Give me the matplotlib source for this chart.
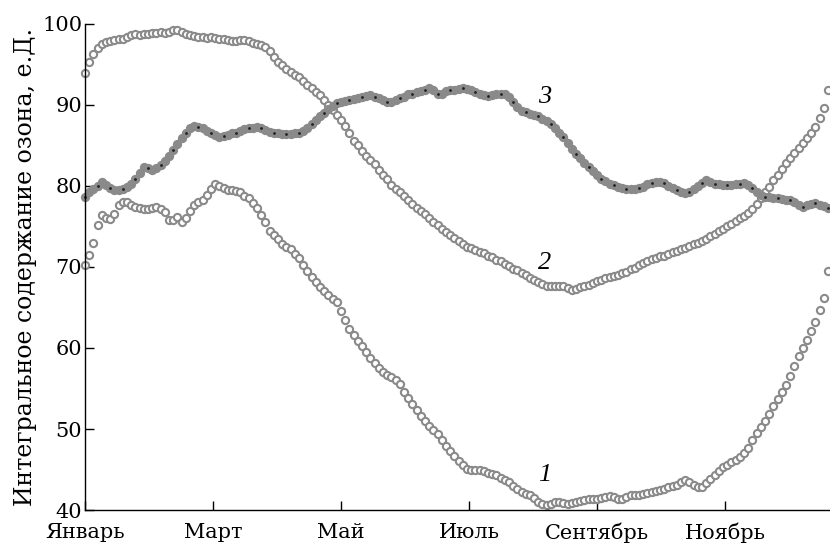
import numpy as np
import matplotlib
matplotlib.use("Agg")
import matplotlib.pyplot as plt

# Day of year for every sample (every second day)
days = np.arange(0, 356, 2)

# Curve 1 — total ozone, first station
ozone_1 = [
    70.2, 71.5, 72.9, 75.2, 76.4, 76.0, 75.9, 76.5, 77.7, 78.0,
    78.0, 77.6, 77.4, 77.3, 77.2, 77.2, 77.3, 77.4, 77.2, 76.8,
    75.8, 75.8, 76.2, 75.6, 76.1, 76.9, 77.7, 78.0, 78.3, 78.9,
    79.6, 80.3, 80.0, 79.8, 79.5, 79.5, 79.4, 79.2, 78.8, 78.5,
    77.9, 77.3, 76.4, 75.5, 74.5, 73.9, 73.4, 72.8, 72.5, 72.2,
    71.6, 71.1, 70.3, 69.5, 68.8, 68.1, 67.5, 67.0, 66.5, 66.1,
    65.7, 64.6, 63.5, 62.3, 61.6, 60.9, 60.2, 59.5, 58.8, 58.1,
    57.5, 57.0, 56.7, 56.4, 56.0, 55.6, 54.6, 53.8, 53.1, 52.3,
    51.6, 51.0, 50.4, 49.9, 49.4, 48.6, 47.9, 47.3, 46.7, 46.1,
    45.5, 45.1, 45.0, 45.0, 44.9, 44.8, 44.6, 44.4, 44.3, 44.0,
    43.7, 43.4, 43.0, 42.6, 42.2, 42.0, 41.8, 41.5, 41.0, 40.7,
    40.6, 40.8, 41.0, 41.0, 40.9, 40.8, 40.9, 41.0, 41.1, 41.2,
    41.3, 41.3, 41.4, 41.5, 41.6, 41.7, 41.6, 41.4, 41.4, 41.6,
    41.8, 41.9, 41.9, 42.0, 42.1, 42.2, 42.4, 42.5, 42.6, 42.8,
    43.0, 43.1, 43.4, 43.7, 43.5, 43.1, 42.9, 42.9, 43.3, 43.8,
    44.3, 44.8, 45.3, 45.6, 45.9, 46.2, 46.6, 47.1, 47.7, 48.6,
    49.5, 50.2, 51.0, 51.9, 52.8, 53.7, 54.6, 55.4, 56.6, 57.8,
    59.0, 60.0, 61.0, 62.1, 63.2, 64.7, 66.2, 69.5,
]

# Curve 2 — total ozone, second station
ozone_2 = [
    94.0, 95.3, 96.3, 97.0, 97.5, 97.8, 97.9, 98.0, 98.1, 98.2,
    98.4, 98.6, 98.7, 98.6, 98.7, 98.8, 98.9, 98.9, 99.0, 98.9,
    99.0, 99.2, 99.3, 99.0, 98.7, 98.6, 98.5, 98.4, 98.4, 98.3,
    98.4, 98.3, 98.2, 98.1, 98.0, 97.9, 97.9, 98.0, 98.0, 97.9,
    97.7, 97.5, 97.4, 97.1, 96.6, 95.9, 95.3, 94.9, 94.5, 94.1,
    93.7, 93.4, 93.0, 92.5, 92.1, 91.6, 91.2, 90.6, 90.0, 89.4,
    88.8, 88.1, 87.4, 86.6, 85.6, 85.0, 84.3, 83.7, 83.2, 82.7,
    82.0, 81.4, 80.8, 80.1, 79.6, 79.2, 78.8, 78.3, 77.8, 77.3,
    76.9, 76.5, 76.0, 75.6, 75.2, 74.7, 74.3, 73.9, 73.6, 73.2,
    72.8, 72.5, 72.3, 72.1, 71.9, 71.7, 71.4, 71.2, 70.9, 70.7,
    70.4, 70.1, 69.8, 69.6, 69.3, 69.0, 68.6, 68.4, 68.2, 67.9,
    67.7, 67.6, 67.6, 67.7, 67.6, 67.4, 67.2, 67.3, 67.5, 67.6,
    67.8, 68.0, 68.3, 68.4, 68.6, 68.8, 68.9, 69.0, 69.2, 69.4,
    69.7, 69.9, 70.2, 70.5, 70.8, 71.0, 71.1, 71.3, 71.4, 71.6,
    71.8, 72.0, 72.2, 72.4, 72.6, 72.8, 73.0, 73.2, 73.5, 73.8,
    74.1, 74.4, 74.7, 75.0, 75.3, 75.7, 76.0, 76.3, 76.7, 77.2,
    77.8, 78.5, 79.2, 79.9, 80.7, 81.4, 82.1, 82.8, 83.5, 84.1,
    84.7, 85.3, 85.9, 86.5, 87.3, 88.4, 89.6, 91.8,
]

# Curve 3 — total ozone, third station
ozone_3 = [
    78.6, 79.2, 79.6, 80.0, 80.5, 80.1, 79.7, 79.5, 79.5, 79.6,
    79.9, 80.3, 80.8, 81.6, 82.4, 82.2, 82.0, 82.2, 82.6, 83.1,
    83.7, 84.5, 85.2, 85.9, 86.6, 87.2, 87.4, 87.3, 87.1, 86.8,
    86.5, 86.3, 86.1, 86.2, 86.3, 86.5, 86.6, 86.8, 87.0, 87.1,
    87.2, 87.3, 87.2, 86.9, 86.7, 86.6, 86.5, 86.4, 86.4, 86.4,
    86.5, 86.5, 86.8, 87.2, 87.7, 88.2, 88.6, 89.0, 89.5, 89.9,
    90.2, 90.4, 90.5, 90.6, 90.7, 90.9, 91.0, 91.1, 91.2, 91.0,
    90.8, 90.6, 90.4, 90.4, 90.6, 90.8, 91.0, 91.3, 91.4, 91.6,
    91.7, 91.9, 92.1, 91.8, 91.4, 91.4, 91.7, 91.8, 91.9, 92.0,
    92.1, 92.0, 91.8, 91.6, 91.4, 91.2, 91.1, 91.2, 91.3, 91.4,
    91.3, 91.0, 90.4, 89.8, 89.3, 89.1, 88.9, 88.8, 88.6, 88.3,
    88.0, 87.6, 87.1, 86.6, 86.0, 85.3, 84.6, 84.0, 83.4, 82.8,
    82.3, 81.8, 81.3, 80.9, 80.6, 80.3, 80.1, 79.9, 79.7, 79.6,
    79.6, 79.6, 79.7, 79.9, 80.2, 80.4, 80.5, 80.5, 80.4, 80.0,
    79.7, 79.5, 79.3, 79.1, 79.2, 79.6, 80.0, 80.4, 80.7, 80.5,
    80.3, 80.2, 80.1, 80.1, 80.1, 80.2, 80.3, 80.4, 80.1, 79.7,
    79.3, 78.9, 78.6, 78.6, 78.5, 78.5, 78.4, 78.3, 78.3, 78.0,
    77.6, 77.4, 77.6, 77.8, 77.9, 77.7, 77.5, 77.3,
]

month_ticks = [0, 61, 122, 183, 244, 305]
month_labels = ["Январь", "Март", "Май", "Июль", "Сентябрь", "Ноябрь"]
y_ticks = [40, 50, 60, 70, 80, 90, 100]

curve_labels = ["1", "2", "3"]
label_days = [219, 219, 219]
label_values = [44.3, 70.5, 91.0]

plt.rcParams["font.family"] = ["DejaVu Serif"]

fig = plt.figure(figsize=(8.3, 5.48), dpi=100)
ax = fig.add_axes([0.1024, 0.0693, 0.8976, 0.887])

grey = "#8a8a8a"
for series in (ozone_1, ozone_2):
    ax.plot(days, series, linestyle="none", marker="o", ms=5.2,
            mfc="white", mec=grey, mew=1.5, clip_on=False)
ax.plot(days, ozone_3, linestyle="none", marker="o", ms=5.2,
        mfc=grey, mec=grey, mew=1.5, clip_on=False)
ax.plot(days[::3], ozone_3[::3], linestyle="none", marker="o", ms=1.0,
        mfc="#222222", mec="#222222", clip_on=False)

for txt, d, v in zip(curve_labels, label_days, label_values):
    ax.text(d, v, txt, fontsize=19, style="italic", ha="center", va="center",
            family=["Liberation Serif"])

ax.set_xlim(0, 355)
ax.set_ylim(40, 100)
ax.set_xticks(month_ticks)
ax.set_xticklabels(month_labels)
ax.set_yticks(y_ticks)
ax.tick_params(direction="in", length=6.5, width=1, labelsize=15)
ax.tick_params(axis="x", pad=9)
ax.tick_params(axis="y", pad=2)
for side in ("top", "right"):
    ax.spines[side].set_visible(False)
for side in ("left", "bottom"):
    ax.spines[side].set_linewidth(1.0)
ax.set_ylabel("Интегральное содержание озона, е.Д.", fontsize=17, labelpad=4)

fig.savefig("out.png", dpi=100)
